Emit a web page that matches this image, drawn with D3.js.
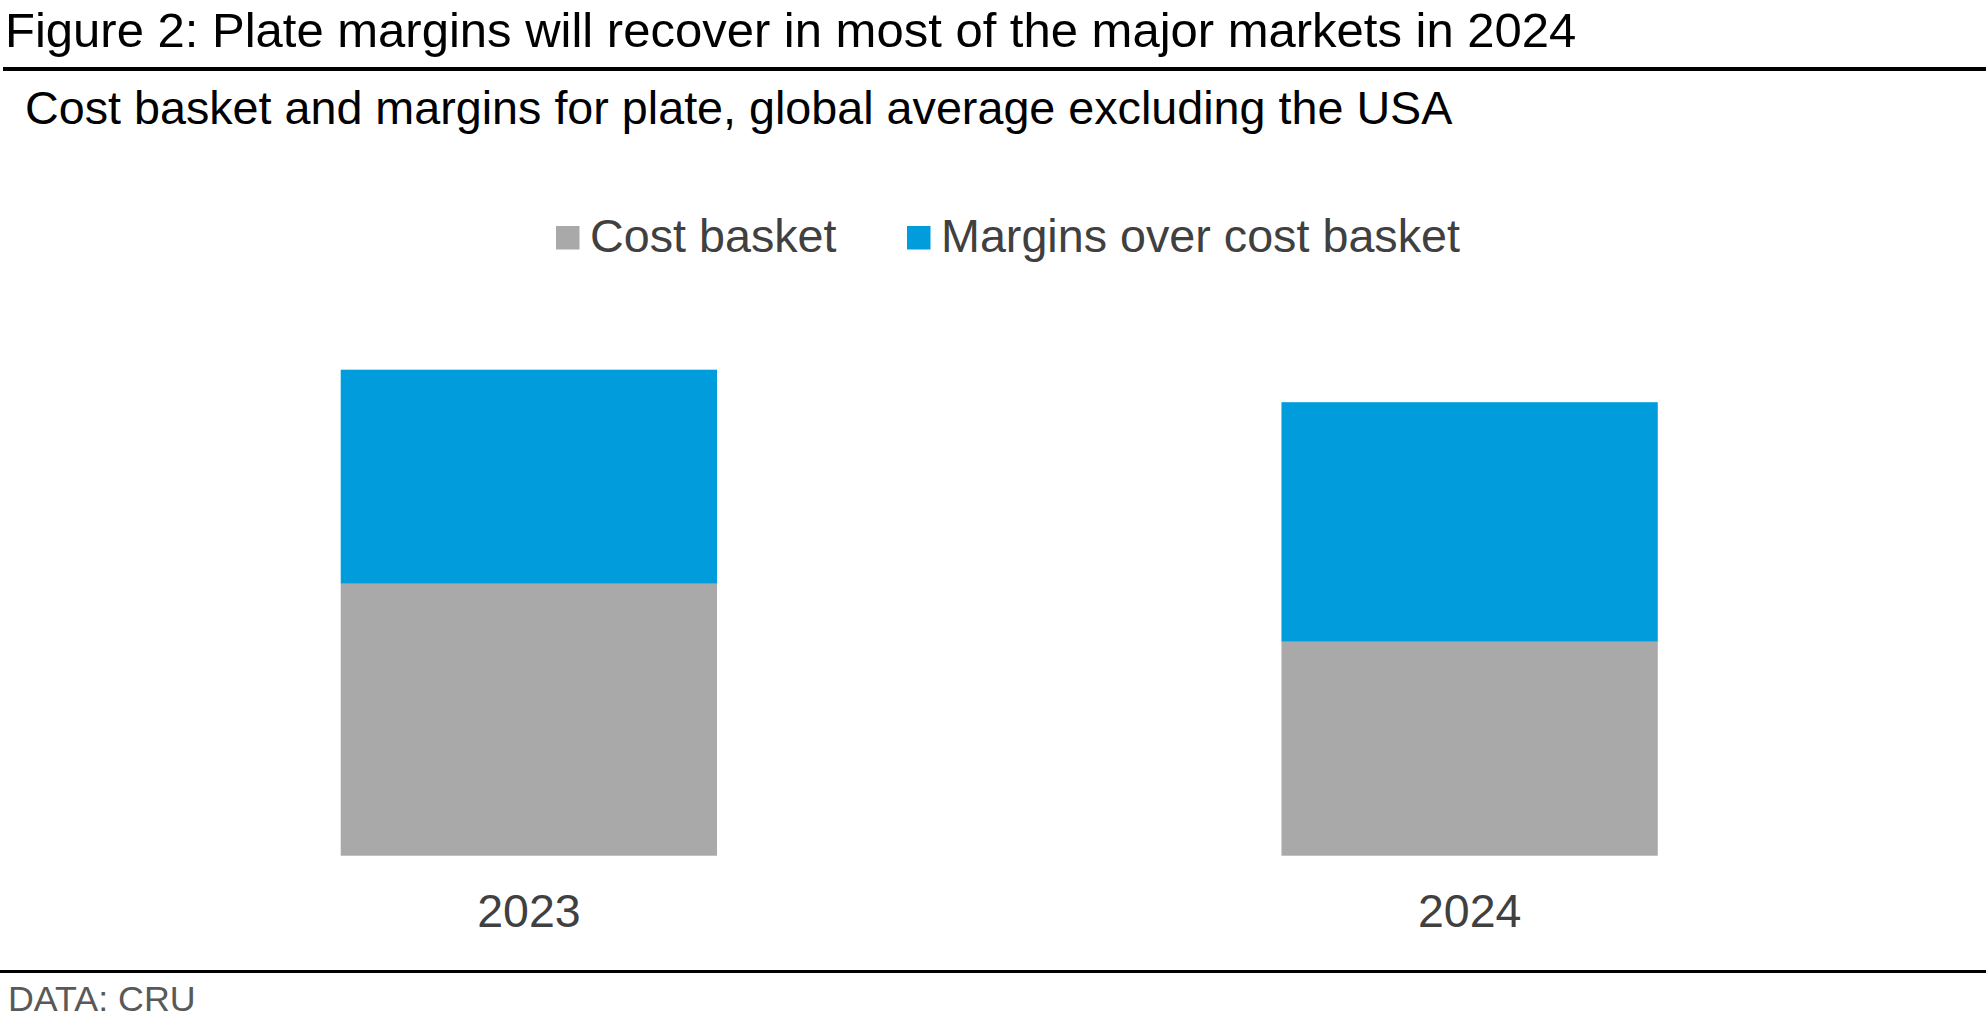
<!DOCTYPE html>
<html>
<head>
<meta charset="utf-8">
<script src="https://cdn.jsdelivr.net/npm/d3@7"></script>
<style>
  body { margin: 0; background: #fff; }
  svg { display: block; font-family: "Liberation Sans", Arial, sans-serif; }
</style>
</head>
<body>
<script>
var width = 1986;
var height = 1020;

// data (no axis shown, values in arbitrary units)
var years = ["2023", "2024"];
var seriesNames = ["Cost basket", "Margins over cost basket"];
var costBasket = [544, 428];
var margins = [428, 479];
var colors = ["#a9a9a9", "#009cdc"];

var title = "Figure 2: Plate margins will recover in most of the major markets in 2024";
var subtitle = "Cost basket and margins for plate, global average excluding the USA";
var source = "DATA: CRU";

// rows for the stack
var rows = years.map(function(y, i) {
    return { year: y, cost: costBasket[i], margin: margins[i] };
});
var stacked = d3.stack().keys(["cost", "margin"])(rows);

var svg = d3.select("body")
    .append("svg")
    .attr("width", width)
    .attr("height", height);

svg.append("rect")
   .attr("width", width)
   .attr("height", height)
   .attr("fill", "#fff");

// scales
var xScale = d3.scaleBand()
    .domain(years)
    .range([58.5, 1940])
    .paddingInner(0.6)
    .paddingOuter(0.3);

var yScale = d3.scaleLinear()
    .domain([0, 1000])
    .range([855.7, 355.7]);

// header
svg.append("text")
   .attr("x", 5)
   .attr("y", 47)
   .attr("font-size", "49px")
   .attr("fill", "#000")
   .text(title);

svg.append("line")
   .attr("x1", 3).attr("x2", width)
   .attr("y1", 69).attr("y2", 69)
   .attr("stroke", "#000")
   .attr("stroke-width", 4);

svg.append("text")
   .attr("x", 25)
   .attr("y", 124)
   .attr("font-size", "46.7px")
   .attr("fill", "#000")
   .text(subtitle);

// legend
var legendX = [556, 907];
var legend = svg.selectAll("g.legend")
    .data(seriesNames)
    .enter()
    .append("g")
    .attr("class", "legend")
    .attr("transform", function(d, i) {
        return "translate(" + legendX[i] + ",0)";
    });

legend.append("rect")
    .attr("x", 0)
    .attr("y", 226)
    .attr("width", 23.5)
    .attr("height", 23.5)
    .attr("fill", function(d, i) { return colors[i]; });

legend.append("text")
    .attr("x", 34)
    .attr("y", 251.5)
    .attr("font-size", "46.7px")
    .attr("fill", "#404040")
    .text(function(d) { return d; });

// stacked bars
svg.selectAll("g.series")
   .data(stacked)
   .enter()
   .append("g")
   .attr("class", "series")
   .attr("fill", function(d, i) { return colors[i]; })
   .selectAll("rect")
   .data(function(d) { return d; })
   .enter()
   .append("rect")
   .attr("x", function(d) { return xScale(d.data.year); })
   .attr("width", xScale.bandwidth())
   .attr("y", function(d) { return yScale(d[1]); })
   .attr("height", function(d) { return yScale(d[0]) - yScale(d[1]); });

// category axis, labels only
var xAxis = svg.append("g")
    .attr("transform", "translate(0,855.7)")
    .call(d3.axisBottom(xScale).tickSize(0).tickPadding(71));

xAxis.select(".domain").remove();
xAxis.selectAll("text")
    .attr("font-family", "\"Liberation Sans\", Arial, sans-serif")
    .attr("font-size", "46.5px")
    .attr("fill", "#404040")
    .attr("dy", null)
    .attr("dominant-baseline", "alphabetic");

// footer
svg.append("line")
   .attr("x1", 0).attr("x2", width)
   .attr("y1", 971.5).attr("y2", 971.5)
   .attr("stroke", "#000")
   .attr("stroke-width", 3);

svg.append("text")
   .attr("x", 8)
   .attr("y", 1010.5)
   .attr("font-size", "35.8px")
   .attr("fill", "#595959")
   .text(source);
</script>
</body>
</html>
